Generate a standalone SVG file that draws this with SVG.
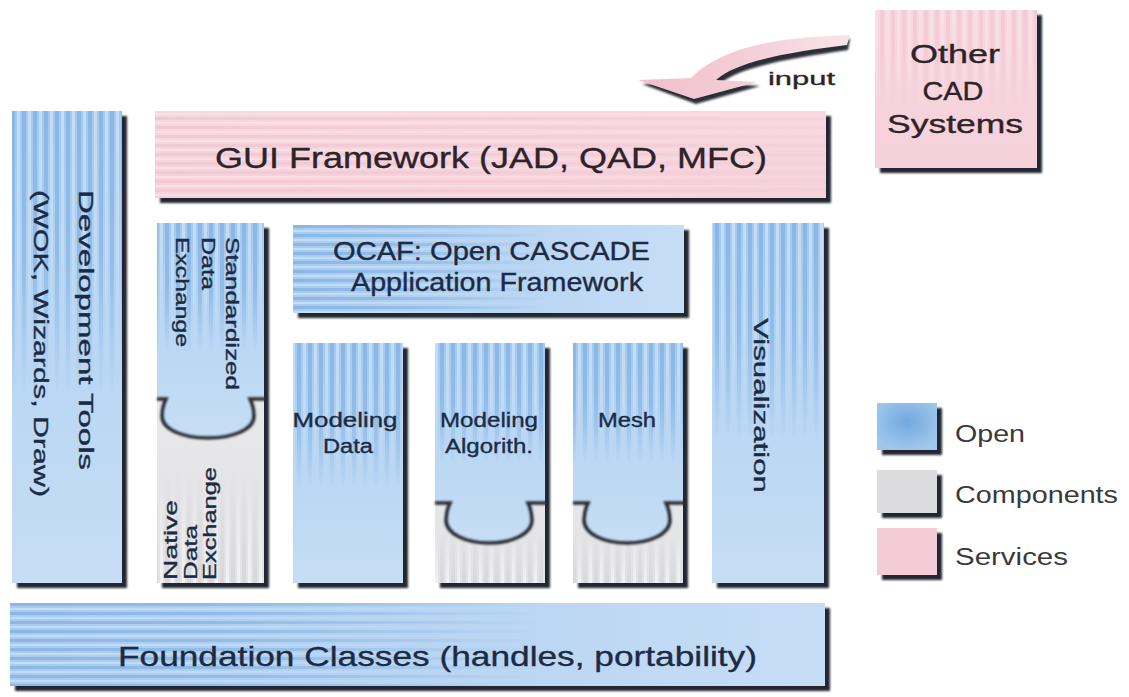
<svg xmlns="http://www.w3.org/2000/svg" width="1129" height="697" viewBox="0 0 1129 697">
<style>
.sh{fill:#222831;filter:url(#blur)}
.txt{font-family:"Liberation Sans",Arial,sans-serif;fill:#1c2b44;stroke:#1c2b44;stroke-width:0.35}
.ptxt{font-family:"Liberation Sans",Arial,sans-serif;fill:#2e2328;stroke:#2e2328;stroke-width:0.35}
.ltxt{font-family:"Liberation Sans",Arial,sans-serif;fill:#3a3a3a;font-size:23px}
.edge{fill:none;stroke:#262c35;stroke-width:3.5;filter:url(#blur)}
</style>
<defs>
<filter id="blur" x="-10%" y="-10%" width="120%" height="120%"><feGaussianBlur stdDeviation="0.8"/></filter>
<linearGradient id="gBlueV" x1="0" y1="0" x2="0" y2="1"><stop offset="0" stop-color="#a4c9ee"/><stop offset="0.5" stop-color="#b8d6f3"/><stop offset="1" stop-color="#c6ddf5"/></linearGradient>
<linearGradient id="gBlueH" x1="0" y1="0" x2="1" y2="0"><stop offset="0" stop-color="#a9cbee"/><stop offset="1" stop-color="#c6ddf6"/></linearGradient>
<linearGradient id="gGray" x1="0" y1="0" x2="0" y2="1"><stop offset="0" stop-color="#eeeef0"/><stop offset="1" stop-color="#e2e2e5"/></linearGradient>
<linearGradient id="gPink" x1="0" y1="0" x2="0" y2="1"><stop offset="0" stop-color="#f8d8e0"/><stop offset="1" stop-color="#f5d1da"/></linearGradient>
<linearGradient id="gArrow" x1="0" y1="0" x2="1" y2="0"><stop offset="0" stop-color="#f0bfcc"/><stop offset="0.5" stop-color="#f4cdd7"/><stop offset="1" stop-color="#fae4ea"/></linearGradient>
<radialGradient id="gLegOpen" cx="0.5" cy="0.4" r="0.6"><stop offset="0" stop-color="#72a8de"/><stop offset="1" stop-color="#9fc7ed"/></radialGradient>
<pattern id="pvB" width="11" height="10" patternUnits="userSpaceOnUse"><rect x="0" width="4" height="10" fill="#8ab7e6"/><rect x="6" width="3" height="10" fill="#c4ddf6"/></pattern>
<pattern id="phB" width="10" height="9" patternUnits="userSpaceOnUse"><rect y="0" width="10" height="3" fill="#8ab7e6"/><rect y="5" width="10" height="2" fill="#c4ddf6"/></pattern>
<pattern id="pvG" width="11" height="10" patternUnits="userSpaceOnUse"><rect x="0" width="4" height="10" fill="#d6d6da"/><rect x="6" width="3" height="10" fill="#f4f4f5"/></pattern>
<pattern id="phP" width="10" height="9" patternUnits="userSpaceOnUse"><rect y="0" width="10" height="3" fill="#f1c9d4"/><rect y="5" width="10" height="2" fill="#fae0e7"/></pattern>
<pattern id="pvP" width="11" height="10" patternUnits="userSpaceOnUse"><rect x="0" width="4" height="10" fill="#f2cbd5"/><rect x="6" width="3" height="10" fill="#f9dfe6"/></pattern>
<linearGradient id="fV" x1="0" y1="0" x2="0" y2="1"><stop offset="0" stop-color="#fff"/><stop offset="0.3" stop-color="#fff" stop-opacity="0.8"/><stop offset="0.6" stop-color="#fff" stop-opacity="0"/></linearGradient>
<linearGradient id="fVup" x1="0" y1="1" x2="0" y2="0"><stop offset="0" stop-color="#fff" stop-opacity="0.85"/><stop offset="0.6" stop-color="#fff" stop-opacity="0"/></linearGradient>
<linearGradient id="fH" x1="0" y1="0" x2="1" y2="0"><stop offset="0" stop-color="#fff"/><stop offset="0.3" stop-color="#fff" stop-opacity="0.75"/><stop offset="0.65" stop-color="#fff" stop-opacity="0"/></linearGradient>
<linearGradient id="fHlong" x1="0" y1="0" x2="1" y2="0"><stop offset="0" stop-color="#fff"/><stop offset="0.6" stop-color="#fff" stop-opacity="0.6"/><stop offset="1" stop-color="#fff" stop-opacity="0.25"/></linearGradient>
<mask id="mV" maskContentUnits="objectBoundingBox"><rect width="1" height="1" fill="url(#fV)"/></mask>
<mask id="mVup" maskContentUnits="objectBoundingBox"><rect width="1" height="1" fill="url(#fVup)"/></mask>
<mask id="mH" maskContentUnits="objectBoundingBox"><rect width="1" height="1" fill="url(#fH)"/></mask>
<mask id="mHlong" maskContentUnits="objectBoundingBox"><rect width="1" height="1" fill="url(#fHlong)"/></mask>
</defs>
<rect width="1129" height="697" fill="#ffffff"/>

<g id="connectors">
<path d="M850,39 C795,42 730,48 696,82 L642,84 L696,104 L760,86 L721,83 C742,66 793,58 848,50 Z" fill="#2a2f36" filter="url(#blur)"/>
<path d="M850,35 C795,37 726,42 691,78 L638,80 L694,99 L757,82 L716,80 C737,61 790,52 847,45 Z" fill="url(#gArrow)"/>
<text class="ptxt" x="768" y="85" font-size="19" textLength="67" lengthAdjust="spacingAndGlyphs">input</text>
</g>

<g id="dev-tools">
<rect class="sh" x="17" y="116" width="110" height="472"/>
<rect x="12" y="111" width="110" height="472" fill="url(#gBlueV)"/>
<rect x="12" y="111" width="110" height="472" fill="url(#pvB)" mask="url(#mV)"/>
<text class="txt" transform="translate(79,190) rotate(90)" font-size="20" textLength="280" lengthAdjust="spacingAndGlyphs">Development Tools</text>
<text class="txt" transform="translate(34,190) rotate(90)" font-size="21" textLength="307" lengthAdjust="spacingAndGlyphs">(WOK, Wizards, Draw)</text>
</g>

<g id="gui-framework">
<rect class="sh" x="160" y="116" width="671" height="87"/>
<rect x="155" y="111" width="671" height="87" fill="url(#gPink)"/>
<rect x="155" y="111" width="671" height="87" fill="url(#phP)" mask="url(#mHlong)"/>
<text class="ptxt" x="215" y="168" font-size="29" textLength="552" lengthAdjust="spacingAndGlyphs">GUI Framework (JAD, QAD, MFC)</text>
</g>

<g id="other-cad">
<rect class="sh" x="880" y="15" width="162" height="158"/>
<rect x="875" y="10" width="162" height="158" fill="url(#gPink)"/>
<rect x="875" y="10" width="162" height="158" fill="url(#pvP)" mask="url(#mV)"/>
<text class="ptxt" x="955" y="63" font-size="25" text-anchor="middle" textLength="90" lengthAdjust="spacingAndGlyphs">Other</text>
<text class="ptxt" x="953" y="100" font-size="25" text-anchor="middle" textLength="61" lengthAdjust="spacingAndGlyphs">CAD</text>
<text class="ptxt" x="955" y="133" font-size="25" text-anchor="middle" textLength="136" lengthAdjust="spacingAndGlyphs">Systems</text>
</g>

<g id="data-exchange">
<rect class="sh" x="162" y="228" width="107" height="360"/>
<g id="native-data-exchange">
<rect x="157" y="223" width="107" height="360" fill="url(#gGray)"/>
<rect x="157" y="400" width="107" height="183" fill="url(#pvG)" mask="url(#mVup)"/>
<text class="txt" transform="translate(177,580) rotate(-90)" font-size="19" textLength="80" lengthAdjust="spacingAndGlyphs">Native</text>
<text class="txt" transform="translate(197,580) rotate(-90)" font-size="19" textLength="55" lengthAdjust="spacingAndGlyphs">Data</text>
<text class="txt" transform="translate(216,580) rotate(-90)" font-size="19" textLength="113" lengthAdjust="spacingAndGlyphs">Exchange</text>
</g>
<g id="standardized-data-exchange">
<path d="M157,223 H264 V398 H250 C253,404 254,409 254,415 C254,429 232,437 208,437 C184,437 162,429 162,415 C162,409 163,404 166,398 H157 Z" fill="url(#gBlueV)"/>
<path d="M157,223 H264 V398 H250 C253,404 254,409 254,415 C254,429 232,437 208,437 C184,437 162,429 162,415 C162,409 163,404 166,398 H157 Z" fill="url(#pvB)" mask="url(#mV)"/>
<path class="edge" d="M157,399 H166 C163,405 162,410 162,416 C162,430 184,438 208,438 C232,438 254,430 254,416 C254,410 253,405 250,399 H266"/>
<text class="txt" transform="translate(226,237) rotate(90)" font-size="19" textLength="153" lengthAdjust="spacingAndGlyphs">Standardized</text>
<text class="txt" transform="translate(202,237) rotate(90)" font-size="19" textLength="53" lengthAdjust="spacingAndGlyphs">Data</text>
<text class="txt" transform="translate(176,237) rotate(90)" font-size="19" textLength="110" lengthAdjust="spacingAndGlyphs">Exchange</text>
</g>
</g>

<g id="ocaf">
<rect class="sh" x="298" y="230" width="391" height="88"/>
<rect x="293" y="225" width="391" height="88" fill="url(#gBlueH)"/>
<rect x="293" y="225" width="391" height="88" fill="url(#phB)" mask="url(#mH)"/>
<text class="txt" x="333" y="260" font-size="25" textLength="317" lengthAdjust="spacingAndGlyphs">OCAF: Open CASCADE</text>
<text class="txt" x="351" y="291" font-size="25" textLength="292" lengthAdjust="spacingAndGlyphs">Application Framework</text>
</g>

<g id="modeling-data">
<rect class="sh" x="298" y="348" width="110" height="240"/>
<rect x="293" y="343" width="110" height="240" fill="url(#gBlueV)"/>
<rect x="293" y="343" width="110" height="240" fill="url(#pvB)" mask="url(#mV)"/>
<text class="txt" x="345" y="427" font-size="20" text-anchor="middle" textLength="105" lengthAdjust="spacingAndGlyphs">Modeling</text>
<text class="txt" x="348" y="453" font-size="20" text-anchor="middle" textLength="50" lengthAdjust="spacingAndGlyphs">Data</text>
</g>

<g id="modeling-algorithms">
<rect class="sh" x="440" y="348" width="110" height="240"/>
<rect x="435" y="343" width="110" height="240" fill="url(#gGray)"/>
<rect x="435" y="500" width="110" height="83" fill="url(#pvG)" mask="url(#mVup)"/>
<path d="M435,343 H545 V502 H528 C531,508 532,513 532,519 C532,533 512,542 489,542 C466,542 446,533 446,519 C446,513 447,508 450,502 H435 Z" fill="url(#gBlueV)"/>
<path d="M435,343 H545 V502 H528 C531,508 532,513 532,519 C532,533 512,542 489,542 C466,542 446,533 446,519 C446,513 447,508 450,502 H435 Z" fill="url(#pvB)" mask="url(#mV)"/>
<path class="edge" d="M435,503 H450 C447,509 446,514 446,520 C446,534 466,543 489,543 C512,543 532,534 532,520 C532,514 531,509 528,503 H547"/>
<text class="txt" x="489" y="427" font-size="20" text-anchor="middle" textLength="98" lengthAdjust="spacingAndGlyphs">Modeling</text>
<text class="txt" x="489" y="453" font-size="20" text-anchor="middle" textLength="88" lengthAdjust="spacingAndGlyphs">Algorith.</text>
</g>

<g id="mesh">
<rect class="sh" x="578" y="348" width="110" height="240"/>
<rect x="573" y="343" width="110" height="240" fill="url(#gGray)"/>
<rect x="573" y="500" width="110" height="83" fill="url(#pvG)" mask="url(#mVup)"/>
<path d="M573,343 H683 V502 H666 C669,508 670,513 670,519 C670,533 650,542 627,542 C604,542 584,533 584,519 C584,513 585,508 588,502 H573 Z" fill="url(#gBlueV)"/>
<path d="M573,343 H683 V502 H666 C669,508 670,513 670,519 C670,533 650,542 627,542 C604,542 584,533 584,519 C584,513 585,508 588,502 H573 Z" fill="url(#pvB)" mask="url(#mV)"/>
<path class="edge" d="M573,503 H588 C585,509 584,514 584,520 C584,534 604,543 627,543 C650,543 670,534 670,520 C670,514 669,509 666,503 H685"/>
<text class="txt" x="627" y="427" font-size="20" text-anchor="middle" textLength="58" lengthAdjust="spacingAndGlyphs">Mesh</text>
</g>

<g id="visualization">
<rect class="sh" x="717" y="228" width="112" height="360"/>
<rect x="712" y="223" width="112" height="360" fill="url(#gBlueV)"/>
<rect x="712" y="223" width="112" height="360" fill="url(#pvB)" mask="url(#mV)"/>
<text class="txt" transform="translate(754,318) rotate(90)" font-size="21" textLength="175" lengthAdjust="spacingAndGlyphs">Visualization</text>
</g>

<g id="foundation">
<rect class="sh" x="15" y="608" width="815" height="83"/>
<rect x="10" y="603" width="815" height="83" fill="url(#gBlueH)"/>
<rect x="10" y="603" width="815" height="83" fill="url(#phB)" mask="url(#mH)"/>
<text class="txt" x="118" y="666" font-size="28" textLength="639" lengthAdjust="spacingAndGlyphs">Foundation Classes (handles, portability)</text>
</g>

<g id="legend">
<rect class="sh" x="882" y="408" width="60" height="47"/>
<rect x="877" y="403" width="60" height="47" fill="url(#gLegOpen)"/>
<rect class="sh" x="882" y="475" width="60" height="43"/>
<rect x="877" y="470" width="60" height="43" fill="#dcdcde"/>
<rect class="sh" x="882" y="533" width="60" height="47"/>
<rect x="877" y="528" width="60" height="47" fill="#f4ccd7"/>
<text class="ltxt" x="955" y="442" textLength="70" lengthAdjust="spacingAndGlyphs">Open</text>
<text class="ltxt" x="955" y="503" textLength="163" lengthAdjust="spacingAndGlyphs">Components</text>
<text class="ltxt" x="955" y="565" textLength="113" lengthAdjust="spacingAndGlyphs">Services</text>
</g>
</svg>
